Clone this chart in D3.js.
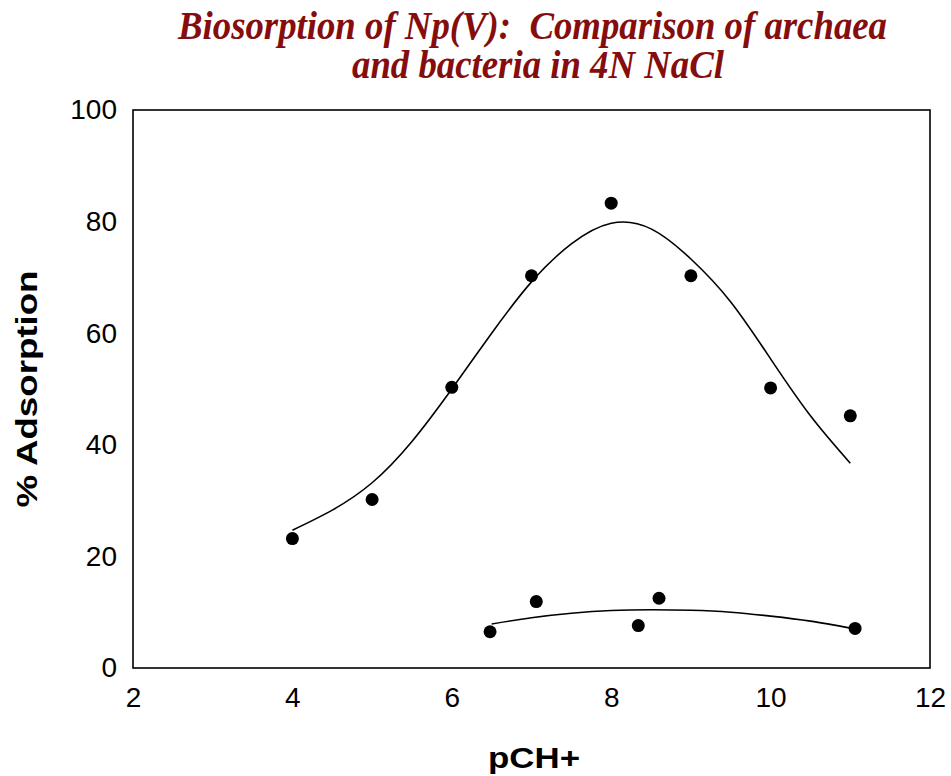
<!DOCTYPE html>
<html>
<head>
<meta charset="utf-8">
<script src="https://cdn.jsdelivr.net/npm/d3@7"></script>
<style>
  html, body { margin: 0; padding: 0; background: #fff; }
  svg { display: block; }
</style>
</head>
<body>
<script>
// ---- data ----
const titleLines = ["Biosorption of Np(V):  Comparison of archaea", "and bacteria in 4N NaCl"];
const xLabel = "pCH+";
const yLabel = "% Adsorption";
const xTicks = [2, 4, 6, 8, 10, 12];
const yTicks = [0, 20, 40, 60, 80, 100];

// archaea (upper) measured points
const archaeaX = [4, 5, 6, 7, 8, 9, 10, 11];
const archaeaY = [23.2, 30.2, 50.3, 70.3, 83.3, 70.3, 50.2, 45.2];
// archaea fitted curve
const archaeaFitX = [4.0, 4.5, 5.0, 5.5, 6.0, 6.5, 7.0, 7.5, 8.0, 8.5, 9.0, 9.5, 10.0, 10.5, 11.0];
const archaeaFitY = [24.7, 28.3, 33.2, 40.6, 50.0, 60.0, 69.2, 76.0, 79.7, 78.7, 73.3, 65.6, 55.4, 45.2, 36.7];

// bacteria (lower) measured points
const bacteriaX = [6.48, 7.06, 8.34, 8.60, 11.06];
const bacteriaY = [6.5, 11.9, 7.6, 12.5, 7.1];
// bacteria fitted curve
const bacteriaFitX = [6.5, 7.0, 7.5, 8.0, 8.5, 9.0, 9.5, 10.0, 10.5, 11.02];
const bacteriaFitY = [7.9, 9.0, 9.8, 10.3, 10.45, 10.35, 10.0, 9.3, 8.4, 7.1];

// ---- layout ----
const W = 951, H = 776;
const m = { left: 133, top: 110, right: 21, bottom: 108 };
const pw = W - m.left - m.right, ph = H - m.top - m.bottom;

const svg = d3.select("body").append("svg").attr("width", W).attr("height", H);

const x = d3.scaleLinear().domain([2, 12]).range([m.left, m.left + pw]);
const y = d3.scaleLinear().domain([0, 100]).range([m.top + ph, m.top]);

// title
const titleColor = "#850d0d";
const tl = [{ t: titleLines[0], cx: 532.5, by: 39, len: 709 }, { t: titleLines[1], cx: 538, by: 78, len: 372 }];
svg.selectAll("text.title").data(tl).enter().append("text")
  .attr("class", "title")
  .attr("x", d => d.cx).attr("y", d => d.by)
  .attr("text-anchor", "middle")
  .attr("textLength", d => d.len).attr("lengthAdjust", "spacingAndGlyphs")
  .attr("xml:space", "preserve")
  .style("white-space", "pre")
  .style("font-family", "'Liberation Serif', 'Times New Roman', serif")
  .style("font-weight", "bold").style("font-style", "italic")
  .style("font-size", "39px").style("fill", titleColor)
  .text(d => d.t);

// axes (labels only, no tick marks)
const xAxis = d3.axisBottom(x).tickValues(xTicks).tickSize(0).tickPadding(19).tickFormat(d3.format("d"));
const yAxis = d3.axisLeft(y).tickValues(yTicks).tickSize(0).tickPadding(16).tickFormat(d3.format("d"));

const gx = svg.append("g").attr("transform", `translate(0,${m.top + ph})`).call(xAxis);
const gy = svg.append("g").attr("transform", `translate(${m.left},0)`).call(yAxis);
[gx, gy].forEach(g => {
  g.select(".domain").remove();
  g.selectAll("text").style("font-family", "'Liberation Sans', Arial, sans-serif")
    .style("font-size", "28px").style("fill", "#000");
});

// frame
svg.append("rect").attr("x", m.left).attr("y", m.top).attr("width", pw).attr("height", ph)
  .attr("fill", "none").attr("stroke", "#000").attr("stroke-width", 1.6);

// axis titles
svg.append("text").attr("x", 534).attr("y", 768).attr("text-anchor", "middle")
  .attr("textLength", 92).attr("lengthAdjust", "spacingAndGlyphs")
  .style("font-family", "'Liberation Sans', Arial, sans-serif").style("font-weight", "bold")
  .style("font-size", "29px").text(xLabel);

svg.append("text").attr("transform", `translate(37,${(m.top + m.top + ph) / 2}) rotate(-90)`)
  .attr("text-anchor", "middle")
  .attr("textLength", 237).attr("lengthAdjust", "spacingAndGlyphs")
  .style("font-family", "'Liberation Sans', Arial, sans-serif").style("font-weight", "bold")
  .style("font-size", "29px").text(yLabel);

// fitted curves
const line = d3.line().x(d => x(d[0])).y(d => y(d[1])).curve(d3.curveNatural);
const archaeaFit = archaeaFitX.map((v, i) => [v, archaeaFitY[i]]);
const bacteriaFit = bacteriaFitX.map((v, i) => [v, bacteriaFitY[i]]);
[archaeaFit, bacteriaFit].forEach(pts => {
  svg.append("path").attr("d", line(pts)).attr("fill", "none")
    .attr("stroke", "#000").attr("stroke-width", 1.6);
});

// points
const pts = archaeaX.map((v, i) => [v, archaeaY[i]]).concat(bacteriaX.map((v, i) => [v, bacteriaY[i]]));
svg.selectAll("circle.pt").data(pts).enter().append("circle").attr("class", "pt")
  .attr("cx", d => x(d[0])).attr("cy", d => y(d[1])).attr("r", 6.5).attr("fill", "#000");
</script>
</body>
</html>
